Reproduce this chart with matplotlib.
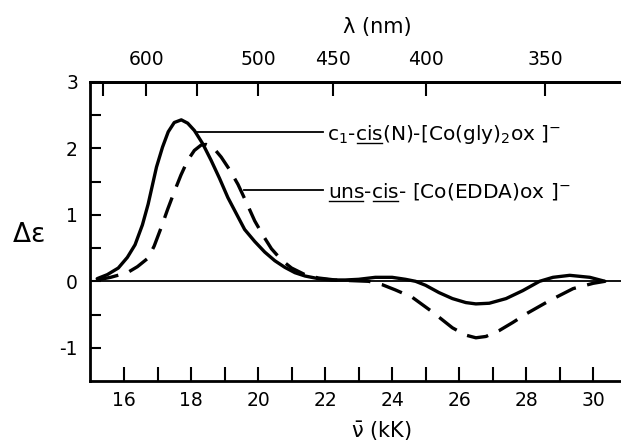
import matplotlib
matplotlib.use('Agg')
import matplotlib.pyplot as plt
import numpy as np

plt.rcParams['font.family'] = ['DejaVu Sans']
plt.rcParams['mathtext.fontset'] = 'dejavusans'
plt.rcParams['mathtext.default'] = 'regular'
plt.rcParams['axes.unicode_minus'] = False

# c1-cis(N)-[Co(gly)2ox]- (solid)
gly_kk = [15.2, 15.5, 15.83, 16.1, 16.33, 16.55, 16.72, 16.97, 17.15, 17.32, 17.5, 17.71,
          17.9, 18.1, 18.35, 18.6, 18.85, 19.1, 19.35, 19.6, 19.9, 20.2, 20.5, 20.8, 21.1,
          21.4, 21.8, 22.2, 22.6, 23.0, 23.5, 24.0, 24.4, 24.7, 25.0, 25.4, 25.8, 26.2,
          26.5, 26.9, 27.4, 27.9, 28.4, 28.8, 29.3, 29.9, 30.35]
gly_de = [0.04, 0.1, 0.2, 0.36, 0.55, 0.85, 1.16, 1.72, 2.02, 2.25, 2.39, 2.43,
          2.38, 2.27, 2.07, 1.82, 1.55, 1.26, 1.02, 0.78, 0.6, 0.44, 0.31, 0.21, 0.13,
          0.08, 0.04, 0.02, 0.02, 0.03, 0.06, 0.06, 0.03, 0.0, -0.06, -0.17, -0.26, -0.32,
          -0.34, -0.33, -0.26, -0.14, 0.0, 0.06, 0.09, 0.06, 0.0]

# uns-cis-[Co(EDDA)ox]- (dashed)
edda_kk = [15.2, 15.6, 16.1, 16.4, 16.72, 16.9, 17.11, 17.3, 17.51, 17.7, 17.9, 18.1,
           18.3, 18.45, 18.65, 18.9, 19.15, 19.4, 19.65, 19.9, 20.15, 20.4, 20.7, 21.0,
           21.4, 21.8, 22.3, 22.8, 23.3, 23.7, 24.1, 24.6, 25.2, 25.8, 26.2, 26.5, 26.8,
           27.2, 27.6, 28.0, 28.7, 29.4, 30.0, 30.35]
edda_de = [0.02, 0.06, 0.13, 0.22, 0.35, 0.53, 0.81, 1.08, 1.36, 1.6, 1.82, 1.97,
           2.05, 2.06, 2.02, 1.87, 1.68, 1.46, 1.19, 0.91, 0.69, 0.49, 0.32, 0.2,
           0.1, 0.05, 0.02, 0.01, 0.0, -0.05, -0.13, -0.24, -0.46, -0.7, -0.81, -0.85, -0.83,
           -0.74, -0.62, -0.49, -0.29, -0.11, -0.03, 0.0]

kk_major = [16, 18, 20, 22, 24, 26, 28, 30]
kk_minor = [17, 19, 21, 23, 25, 27, 29]
nm_ticks = [650, 600, 550, 500, 450, 400, 350]
nm_labels = ['', '600', '', '500', '450', '400', '350']
de_major = [-1, 0, 1, 2, 3]
de_minor = [-0.5, 0.5, 1.5, 2.5]

# label pieces: (text, underlined?)
gly_parts = [('c$_{1}$-', False), ('cis', True), ('(N)-[Co(gly)$_{2}$ox ]$^{-}$', False)]
edda_parts = [('uns', True), ('-', False), ('cis', True), ('- [Co(EDDA)ox ]$^{-}$', False)]

FS = 13.5
LFS = 14.5

fig = plt.figure(figsize=(6.21, 4.47), dpi=100)
ax = fig.add_axes([0.1457, 0.1477, 0.8543, 0.6689])

ax.axhline(0, color='black', lw=1.3)
ax.plot(gly_kk, gly_de, color='black', lw=2.4, solid_joinstyle='round', solid_capstyle='round')
ax.plot(edda_kk, edda_de, color='black', lw=2.4, dashes=(6.5, 3.5))

ax.set_xlim(15, 30.83)
ax.set_ylim(-1.5, 3)

renderer = fig.canvas.get_renderer()


def text_width(x, y, s):
    if not s:
        return 0.0
    t = ax.text(x, y, s, fontsize=LFS, va='baseline', ha='left')
    w = t.get_window_extent(renderer).width
    t.remove()
    return w


def label_with_underlines(x, y, parts):
    # y is the baseline in data units
    ax.text(x, y, ''.join(p for p, _ in parts), fontsize=LFS, va='baseline', ha='left')
    x0, y0 = ax.transData.transform((x, y))
    prefix = ''
    for piece, under in parts:
        if under:
            a = text_width(x, y, prefix)
            b = text_width(x, y, prefix + piece)
            p0 = ax.transData.inverted().transform((x0 + a + 1, y0 - 3))
            p1 = ax.transData.inverted().transform((x0 + b - 1, y0 - 3))
            ax.plot([p0[0], p1[0]], [p0[1], p1[1]], color='black', lw=1.0)
        prefix += piece


# leader lines + labels
ax.plot([18.13, 21.95], [2.24, 2.24], color='black', lw=1.3)
ax.plot([19.57, 21.95], [1.37, 1.37], color='black', lw=1.3)
label_with_underlines(22.05, 2.13, gly_parts)
label_with_underlines(22.09, 1.26, edda_parts)

ax.set_xticks(kk_major)
ax.set_xticks(kk_minor, minor=True)
ax.set_yticks(de_major)
ax.set_yticks(de_minor, minor=True)

ax.tick_params(axis='x', which='both', direction='in', length=10, width=1.5,
               labelsize=FS, pad=7, top=False)
ax.tick_params(axis='y', which='both', direction='in', length=8, width=1.5,
               labelsize=FS, pad=9, right=False)

for s in ['left', 'bottom', 'top']:
    ax.spines[s].set_linewidth(2)
ax.spines['right'].set_visible(False)

ax.set_xlabel(r'$\bar{\nu}$ (kK)', fontsize=15)
ax.xaxis.set_label_coords(0.548, -0.13)

fig.text(12 / 621, 1 - 235 / 447, r'$\Delta\epsilon$', fontsize=19,
         ha='left', va='center')

# top wavelength axis
top = ax.twiny()
top.set_xlim(ax.get_xlim())
top.set_xticks([1e4 / w for w in nm_ticks])
top.set_xticklabels(nm_labels)
top.tick_params(axis='x', direction='in', length=10, width=1.5, labelsize=FS, pad=9)
for s in ['left', 'bottom', 'right']:
    top.spines[s].set_visible(False)
top.spines['top'].set_linewidth(2)
top.set_xlabel('λ (nm)', fontsize=15)
top.xaxis.set_label_coords(0.54, 1.165)

fig.savefig('out.png', dpi=100)
